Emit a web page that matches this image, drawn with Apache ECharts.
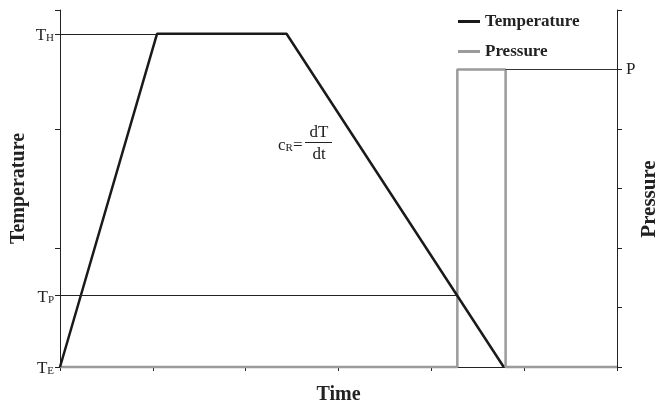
<!DOCTYPE html>
<html>
<head>
<meta charset="utf-8">
<script src="https://cdn.jsdelivr.net/npm/echarts@6/dist/echarts.min.js"></script>
<style>
  html, body { margin: 0; padding: 0; background: #fff; }
  #main { width: 659px; height: 406px; }
</style>
</head>
<body>
<div id="main"></div>
<script>
// time axis has 6 unlabeled divisions
var timeTicks = 6;

// temperature profile (time, temperature), temperature axis 0..300
var tempTimes  = [0, 1.045, 2.44, 4.78];
var tempValues = [0, 280, 280, 0];

// pressure profile (time, pressure), pressure axis 0..6
var pressTimes  = [0, 4.28, 4.28, 4.8, 4.8, 6];
var pressValues = [0, 0, 5, 5, 0, 0];

// special tick labels
var tempLabelValues = [0, 60, 280];
var tempLabelSubs   = ['E', 'P', 'H'];
var pressLabelValues = [5];
var pressLabelNames  = ['P'];

var SERIF = '"Liberation Serif", "Times New Roman", serif';

var tempData = tempTimes.map(function (t, i) { return [t, tempValues[i]]; });
var pressData = pressTimes.map(function (t, i) { return [t, pressValues[i]]; });

var myChart = echarts.init(document.getElementById('main'));

var axisLineStyle = { color: '#222', width: 1 };

var option = {
  animation: false,
  backgroundColor: '#fff',
  textStyle: { fontFamily: SERIF },
  grid: {
    left: 60, right: 42, top: 10, bottom: 39,
    outerBoundsMode: 'none'
  },
  legend: {
    orient: 'vertical',
    left: 453,
    top: 8,
    itemGap: 13,
    itemWidth: 22,
    itemHeight: 3,
    icon: 'rect',
    data: ['Temperature', 'Pressure'],
    textStyle: { fontFamily: SERIF, fontWeight: 'bold', fontSize: 17, color: '#222' }
  },
  xAxis: {
    type: 'value',
    min: 0,
    max: timeTicks,
    interval: 1,
    name: 'Time',
    nameLocation: 'middle',
    nameGap: 18,
    nameMoveOverlap: false,
    nameTextStyle: { fontFamily: SERIF, fontWeight: 'bold', fontSize: 20, color: '#222' },
    axisLine: { lineStyle: axisLineStyle },
    axisTick: { show: true, length: 4, lineStyle: axisLineStyle },
    axisLabel: { show: false },
    splitLine: { show: false }
  },
  yAxis: [
    {
      type: 'value',
      position: 'left',
      min: 0,
      max: 300,
      interval: 100,
      name: 'Temperature',
      nameLocation: 'middle',
      nameRotate: 90,
      nameGap: 31,
      nameMoveOverlap: false,
      nameTextStyle: { fontFamily: SERIF, fontWeight: 'bold', fontSize: 20, color: '#222' },
      axisLine: { show: true, lineStyle: axisLineStyle },
      axisTick: {
        show: true, length: 5, lineStyle: axisLineStyle,
        customValues: [0, 60, 100, 200, 280, 300]
      },
      axisLabel: {
        customValues: tempLabelValues,
        margin: 6,
        formatter: function (v) {
          var i = tempLabelValues.indexOf(v);
          return '{t|T}{s|' + (i >= 0 ? tempLabelSubs[i] : '') + '}';
        },
        rich: {
          t: { fontFamily: SERIF, fontSize: 17, color: '#222', lineHeight: 20, verticalAlign: 'bottom' },
          s: { fontFamily: SERIF, fontSize: 11, color: '#222', lineHeight: 14, verticalAlign: 'bottom' }
        }
      },
      splitLine: { show: false }
    },
    {
      type: 'value',
      position: 'right',
      min: 0,
      max: 6,
      interval: 1,
      name: 'Pressure',
      nameLocation: 'middle',
      nameRotate: 90,
      nameGap: 22,
      nameMoveOverlap: false,
      nameTextStyle: {
        fontFamily: SERIF, fontWeight: 'bold', fontSize: 21, color: '#222',
        padding: [0, 21, 0, 0]
      },
      axisLine: { show: true, lineStyle: axisLineStyle },
      axisTick: { show: true, length: 5, lineStyle: axisLineStyle },
      axisLabel: {
        customValues: pressLabelValues,
        margin: 9,
        formatter: function (v) {
          var i = pressLabelValues.indexOf(v);
          return i >= 0 ? pressLabelNames[i] : '';
        },
        fontFamily: SERIF, fontSize: 17, color: '#222'
      },
      splitLine: { show: false }
    }
  ],
  series: [
    {
      name: 'Pressure',
      type: 'line',
      yAxisIndex: 1,
      symbol: 'none',
      clip: false,
      color: '#9b9b9b',
      lineStyle: { color: '#9b9b9b', width: 2.5 },
      data: pressData,
      markLine: {
        silent: true,
        symbol: 'none',
        label: { show: false },
        lineStyle: { color: '#333', width: 1, type: 'solid' },
        data: [
          [{ coord: [pressTimes[3], pressValues[3]] }, { coord: [timeTicks, pressValues[3]] }]
        ]
      }
    },
    {
      name: 'Temperature',
      type: 'line',
      yAxisIndex: 0,
      symbol: 'none',
      clip: false,
      color: '#1a1a1a',
      lineStyle: { color: '#1a1a1a', width: 2.5 },
      data: tempData,
      markLine: {
        silent: true,
        symbol: 'none',
        label: { show: false },
        lineStyle: { color: '#222', width: 1, type: 'solid' },
        data: [
          [{ coord: [0, tempValues[1]] }, { coord: [tempTimes[1], tempValues[1]] }],
          [{ coord: [0, tempLabelValues[1]] }, { coord: [pressTimes[1], tempLabelValues[1]] }]
        ]
      }
    }
  ],
  // c_R = dT/dt annotation
  graphic: [
    {
      type: 'text',
      style: {
        x: 278, y: 144,
        text: '{c|c}{r|R}{e|=}',
        verticalAlign: 'middle',
        rich: {
          c: { fontFamily: SERIF, fontSize: 17, fill: '#222', lineHeight: 20, verticalAlign: 'bottom' },
          r: { fontFamily: SERIF, fontSize: 11, fill: '#222', lineHeight: 14, verticalAlign: 'bottom' },
          e: { fontFamily: SERIF, fontSize: 17, fill: '#222', lineHeight: 20, verticalAlign: 'bottom' }
        }
      }
    },
    {
      type: 'text',
      style: { x: 319, y: 133, text: 'dT', align: 'center', verticalAlign: 'middle', font: '17px ' + SERIF, fill: '#222' }
    },
    {
      type: 'line',
      shape: { x1: 305, y1: 142.5, x2: 332, y2: 142.5 },
      style: { stroke: '#222', lineWidth: 1 }
    },
    {
      type: 'text',
      style: { x: 319, y: 155, text: 'dt', align: 'center', verticalAlign: 'middle', font: '17px ' + SERIF, fill: '#222' }
    }
  ]
};

myChart.setOption(option, true);
window.addEventListener('resize', function () {
  myChart.resize();
});
</script>
</body>
</html>
